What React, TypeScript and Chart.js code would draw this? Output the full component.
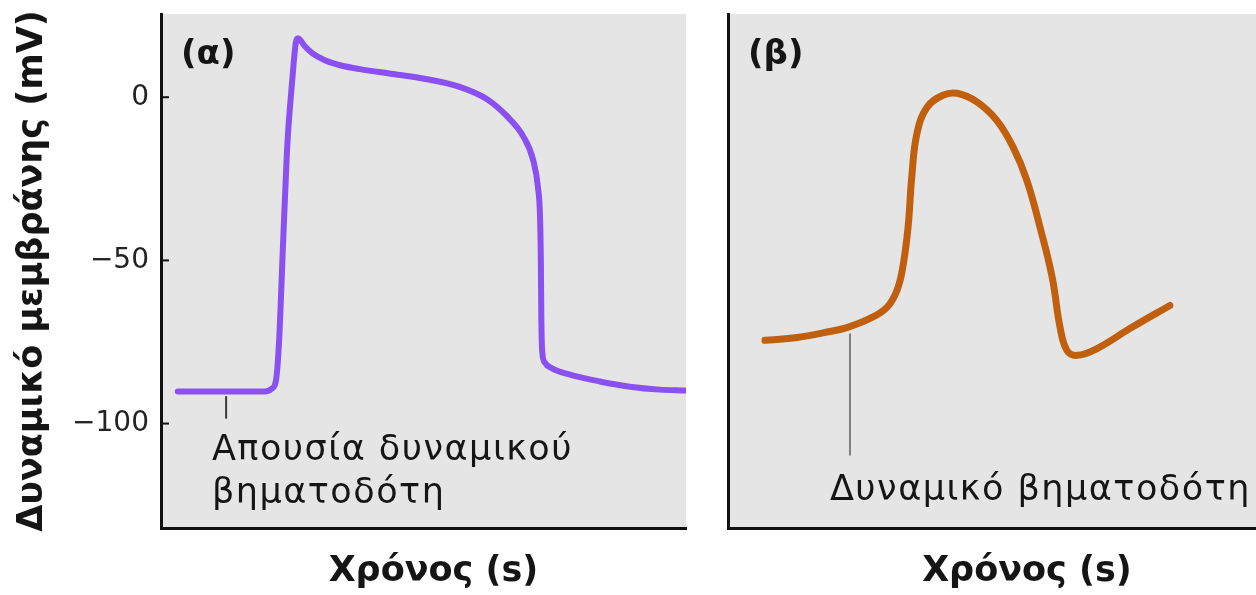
import React, { useEffect, useRef } from 'react';
import { Chart, registerables } from 'chart.js';
Chart.register(...registerables);

// Panel (α): cardiac action potential (no pacemaker potential)
const timeA = [3.2, 19.8, 21.1, 21.9, 22.5, 23.2, 24.0, 25.0, 25.7, 26.1, 27.4, 28.8, 31.2, 34.1, 37.9, 44.2, 50.7, 57.0, 62.1, 65.9, 69.0, 70.9, 71.8, 72.2, 72.35, 72.45, 72.6, 73.1, 74.5, 77.9, 83.6, 89.3, 95.0, 99.8];
const voltA = [-90.2, -90.2, -89.3, -86.8, -74.5, -46.9, -16.3, 5.2, 16.9, 18.1, 15.6, 13.5, 11.3, 9.8, 8.6, 7.1, 5.5, 3.1, -0.6, -5.8, -12.0, -19.3, -27.6, -36.8, -50.0, -68.4, -77.6, -81.3, -83.1, -85.0, -87.1, -88.7, -89.6, -89.9];

// Panel (β): pacemaker potential
const timeB = [7.0, 13.1, 19.3, 22.5, 26.9, 30.1, 32.0, 33.1, 34.1, 34.8, 35.8, 37.7, 40.7, 43.4, 47.2, 50.9, 54.0, 56.6, 59.1, 61.4, 62.9, 64.2, 66.1, 69.9, 76.1, 83.7];
const voltB = [-74.5, -73.6, -71.8, -70.6, -67.8, -64.4, -59.2, -52.1, -39.9, -24.5, -11.0, -3.1, 0.6, 1.2, -1.5, -7.1, -15.3, -25.5, -39.9, -55.2, -70.6, -77.6, -79.1, -77.0, -70.9, -63.8];

const yTicks = [-100, -50, 0];
const yTitle = 'Δυναμικό μεμβράνης (mV)';
const xTitle = 'Χρόνος (s)';
const panelLabels = ['(α)', '(β)'];
const noteA = ['Απουσία δυναμικού', 'βηματοδότη'];
const noteB = ['Δυναμικό βηματοδότη'];

const FONT = "'DejaVu Sans', sans-serif";
const TEXT = '#151515';

const fmtTick = (v: number) => (v < 0 ? '\u2212' + Math.abs(v) : String(v));

type Note = {
  lineT: number; lineFrom: number; lineTo: number; lineColor: string;
  textT: number; textV: number[]; lines: string[];
};

function makePlugins(label: string, note: Note, inwardTicks: boolean, titleShift: number) {
  return [
    {
      id: 'bg',
      beforeDraw(chart: any) {
        const { ctx, chartArea: a } = chart;
        ctx.save();
        ctx.fillStyle = '#e5e5e5';
        ctx.fillRect(a.left, a.top, a.right - a.left, a.bottom - a.top);
        ctx.restore();
      },
    },
    {
      id: 'extras',
      afterDraw(chart: any) {
        const { ctx, chartArea: a, scales } = chart;
        const xs = scales.x, ys = scales.y;
        ctx.save();
        if (inwardTicks) {
          ctx.strokeStyle = '#111';
          ctx.lineWidth = 2;
          yTicks.forEach((v) => {
            const py = ys.getPixelForValue(v);
            ctx.beginPath();
            ctx.moveTo(a.left, py);
            ctx.lineTo(a.left + 8, py);
            ctx.stroke();
          });
        }
        // x-axis title
        ctx.fillStyle = TEXT;
        ctx.font = `bold 35px ${FONT}`;
        ctx.textBaseline = 'middle';
        ctx.textAlign = 'center';
        ctx.fillText(xTitle, (a.left + a.right) / 2 + titleShift, a.bottom + 44);
        // panel label
        ctx.font = `bold 34px ${FONT}`;
        ctx.textAlign = 'left';
        ctx.fillText(label, a.left + 20, a.top + 41);
        // annotation line
        ctx.strokeStyle = note.lineColor;
        ctx.lineWidth = 2;
        const lx = xs.getPixelForValue(note.lineT);
        ctx.beginPath();
        ctx.moveTo(lx, ys.getPixelForValue(note.lineFrom));
        ctx.lineTo(lx, ys.getPixelForValue(note.lineTo));
        ctx.stroke();
        // annotation text
        ctx.font = `35px ${FONT}`;
        (ctx as any).letterSpacing = '1.5px';
        const tx = xs.getPixelForValue(note.textT);
        note.lines.forEach((s, i) => {
          ctx.fillText(s, tx, ys.getPixelForValue(note.textV[i]));
        });
        ctx.restore();
      },
    },
  ];
}

function makeConfig(times: number[], volts: number[], color: string, isLeft: boolean, note: Note, label: string): any {
  return {
    type: 'line',
    data: {
      datasets: [
        {
          data: times.map((t, i) => ({ x: t, y: volts[i] })),
          borderColor: color,
          borderWidth: isLeft ? 6 : 7,
          pointRadius: 0,
          cubicInterpolationMode: isLeft ? 'monotone' : 'default',
          tension: 0.4,
          borderCapStyle: 'round',
          borderJoinStyle: 'round',
          fill: false,
        },
      ],
    },
    options: {
      animation: false,
      responsive: false,
      maintainAspectRatio: false,
      layout: { padding: { top: 14, right: isLeft ? 4 : 0, left: 0, bottom: 0 } },
      plugins: { legend: { display: false }, tooltip: { enabled: false } },
      scales: {
        x: {
          type: 'linear',
          min: 0,
          max: 100,
          ticks: { display: false },
          grid: { display: true, drawOnChartArea: false, drawTicks: false },
          border: { display: true, color: '#111', width: 3 },
          title: { display: false },
          afterFit: (s: any) => { s.height = 67; s.paddingLeft = 0; s.paddingRight = 0; },
        },
        y: {
          type: 'linear',
          min: -132,
          max: 25.5,
          afterBuildTicks: (s: any) => { s.ticks = yTicks.map((v) => ({ value: v })); },
          ticks: {
            display: isLeft,
            callback: (v: any) => fmtTick(Number(v)),
            color: '#222',
            font: { family: FONT, size: 28 },
            padding: 12,
          },
          grid: { display: true, drawOnChartArea: false, drawTicks: false },
          border: { display: true, color: '#111', width: 3 },
          title: {
            display: isLeft,
            text: yTitle,
            color: TEXT,
            font: { family: FONT, size: 35, weight: 'bold' },
            padding: { top: 12, bottom: 0 },
          },
          afterFit: (s: any) => { s.width = isLeft ? 161 : 38; s.paddingTop = 0; s.paddingBottom = 0; },
        },
      },
    },
    plugins: makePlugins(label, note, isLeft, isLeft ? 10 : 35),
  };
}

const notePanelA: Note = {
  lineT: 12.4, lineFrom: -91.6, lineTo: -98.5, lineColor: '#3a3a3a',
  textT: 9.7, textV: [-108.3, -121.5], lines: noteA,
};
const notePanelB: Note = {
  lineT: 23.1, lineFrom: -72.4, lineTo: -109.8, lineColor: '#808080',
  textT: 19.3, textV: [-120.6], lines: noteB,
};

export default function App() {
  const refA = useRef<HTMLCanvasElement>(null);
  const refB = useRef<HTMLCanvasElement>(null);

  useEffect(() => {
    const cA = new Chart(refA.current as HTMLCanvasElement, makeConfig(timeA, voltA, '#8a50f0', true, notePanelA, panelLabels[0]));
    const cB = new Chart(refB.current as HTMLCanvasElement, makeConfig(timeB, voltB, '#c0600e', false, notePanelB, panelLabels[1]));
    return () => { cA.destroy(); cB.destroy(); };
  }, []);

  return (
    <div style={{ position: 'fixed', left: 0, top: 0, width: 1256, height: 595, background: '#fff', overflow: 'hidden' }}>
      <canvas ref={refA} width={690} height={595} style={{ position: 'absolute', left: 0, top: 0, width: 690, height: 595 }} />
      <canvas ref={refB} width={566} height={595} style={{ position: 'absolute', left: 690, top: 0, width: 566, height: 595 }} />
    </div>
  );
}
